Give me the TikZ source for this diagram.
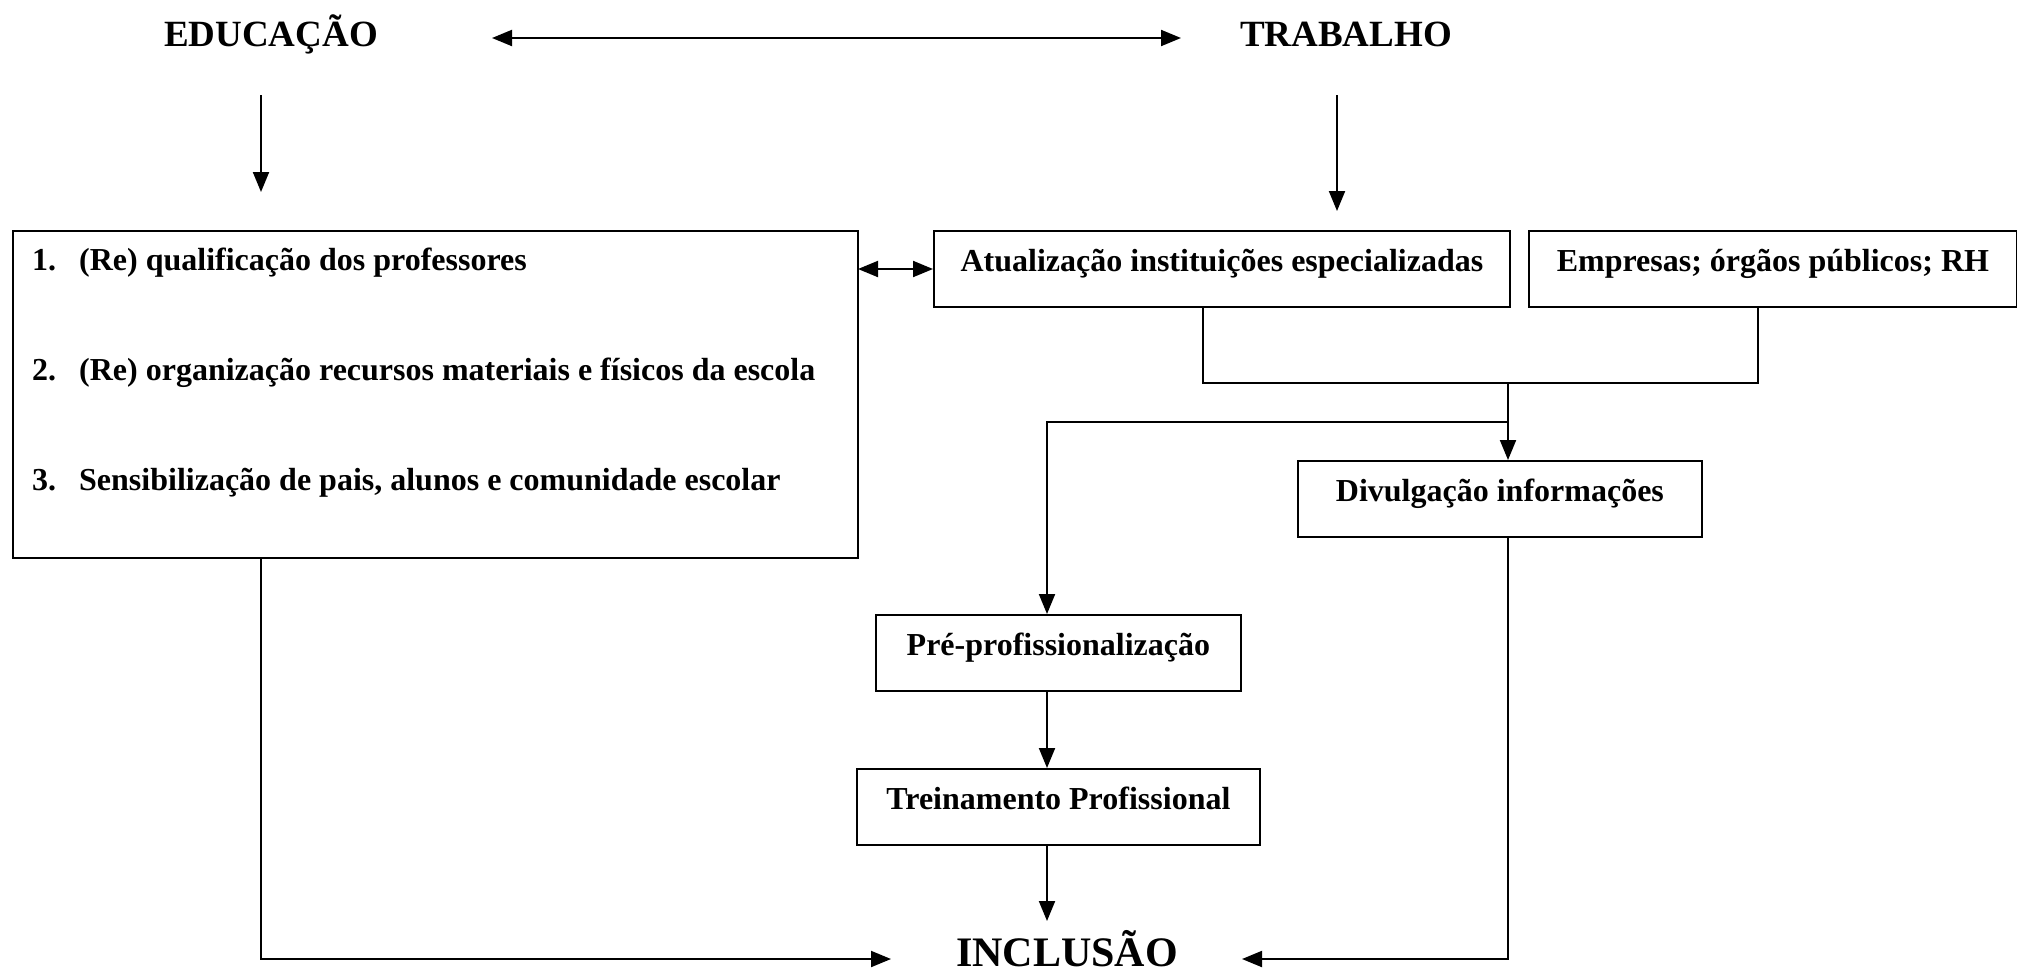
\documentclass[tikz,border=0pt]{standalone}
\usepackage{fontspec}
\setmainfont{Liberation Serif}
\usetikzlibrary{arrows.meta}
\begin{document}
\begin{tikzpicture}[x=1pt,y=-1pt,
  box/.style={draw,line width=1.8pt,inner sep=0pt,anchor=north west,minimum height=76pt,text height=41pt,text depth=35pt,font=\bfseries\fontsize{32}{38}\selectfont},
  conn/.style={line width=2pt},
  arr/.style={conn,-{Triangle[length=20pt,width=16pt]}},
  darr/.style={conn,{Triangle[length=20pt,width=16pt]}-{Triangle[length=20pt,width=16pt]}},
  title/.style={anchor=base,inner sep=0pt,font=\bfseries\fontsize{37}{44}\selectfont},
  item/.style={anchor=base west,inner sep=0pt,font=\bfseries\fontsize{32}{38}\selectfont}]
\useasboundingbox (0,0) rectangle (2017,975);

% titles
\node[title] (edu) at (271,46) {EDUCAÇÃO};
\node[title] (trab) at (1346,46) {TRABALHO};
\node[title,font=\bfseries\fontsize{42}{50}\selectfont] (inc) at (1067,966) {INCLUSÃO};

% boxes
\node[draw,line width=1.8pt,anchor=north west,minimum width=845pt,minimum height=327pt,inner sep=0pt] (edubox) at (12,230) {};
\node[item] (it1) at (32,270) {\makebox[47pt][l]{1.}(Re) qualificação dos professores};
\node[item] (it2) at (32,380) {\makebox[47pt][l]{2.}(Re) organização recursos materiais e físicos da escola};
\node[item] (it3) at (32,490) {\makebox[47pt][l]{3.}Sensibilização de pais, alunos e comunidade escolar};

\node[box,minimum width=576pt] (atu) at (933,230) {Atualização instituições especializadas};
\node[box,minimum width=488pt] (emp) at (1528,230) {Empresas; órgãos públicos; RH};
\node[box,minimum width=404pt] (div) at (1297,460) {Divulgação informações};
\node[box,minimum width=365pt] (pre) at (875,614) {Pré-profissionalização};
\node[box,minimum width=403pt] (tre) at (856,768) {Treinamento Profissional};

% helper coordinates
\coordinate (tL) at (492,38);
\coordinate (tR) at (1181,38);
\coordinate (eS) at (261,95);
\coordinate (eE) at (261,192);
\coordinate (wS) at (1337,95);
\coordinate (wE) at (1337,211);
\coordinate (mL) at (858,269);
\coordinate (mR) at (933,269);
\coordinate (xA) at (1203,0);
\coordinate (xE) at (1758,0);
\coordinate (bA) at (1203,383);
\coordinate (bE) at (1758,383);
\coordinate (bC) at (1508,383);
\coordinate (hC) at (1508,422);
\coordinate (hP) at (1047,422);
\coordinate (xC) at (1508,0);
\coordinate (xP) at (1047,0);
\coordinate (xL) at (261,0);
\coordinate (lC) at (261,959);
\coordinate (lT) at (891,959);
\coordinate (rC) at (1508,959);
\coordinate (rT) at (1242,959);
\coordinate (iT) at (1047,921);

% connectors
\draw[darr] (tL) -- (tR);
\draw[arr] (eS) -- (eE);
\draw[arr] (wS) -- (wE);
\draw[darr] (mL) -- (mR);
\draw[conn] (atu.south -| xA) -- (bA) -- (bE) -- (emp.south -| xE);
\draw[arr] (bC) -- (div.north -| xC);
\draw[arr] (hC) -- (hP) -- (pre.north -| xP);
\draw[arr] (pre.south -| xP) -- (tre.north -| xP);
\draw[arr] (tre.south -| xP) -- (iT);
\draw[arr] (edubox.south -| xL) -- (lC) -- (lT);
\draw[arr] (div.south -| xC) -- (rC) -- (rT);
\end{tikzpicture}
\end{document}
